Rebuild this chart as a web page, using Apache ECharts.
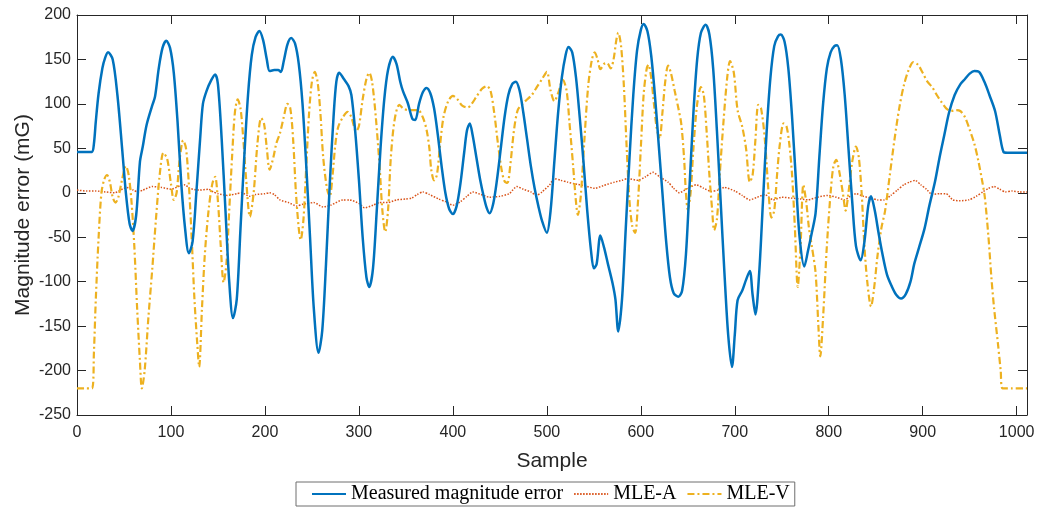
<!DOCTYPE html>
<html>
<head>
<meta charset="utf-8">
<script src="https://cdn.jsdelivr.net/npm/echarts@6/dist/echarts.min.js"></script>
<style>
  html, body { margin: 0; padding: 0; background: #fff; }
  #chart { width: 1042px; height: 508px; }
</style>
</head>
<body>
<div id="chart"></div>
<script>
// Sample index / value pairs for each error trace
const measured = [[0,46],[10,46],[16,46],[18,55],[20,80],[23,112],[27,140],[30,152],[33,158],[38,150],[43,110],[48,50],[52,0],[56,-35],[59,-43],[63,-25],[67,35],[70,52],[74,76],[80,98],[83,108],[87,140],[91,163],[95,171],[99,163],[103,135],[107,80],[111,10],[115,-40],[119,-68],[123,-55],[127,0],[131,60],[134,100],[138,115],[143,127],[147,133],[150,122],[154,60],[158,-20],[162,-100],[166,-141],[170,-120],[174,-40],[178,40],[182,110],[186,155],[190,175],[194,182],[198,172],[202,150],[205,137],[210,138],[214,138],[217,136],[220,148],[224,167],[228,174],[232,168],[236,145],[240,100],[244,30],[248,-50],[252,-130],[257,-180],[261,-155],[265,-80],[269,10],[273,85],[276,125],[279,135],[284,128],[289,120],[292,110],[296,70],[300,15],[304,-50],[308,-95],[311,-106],[315,-85],[319,-20],[323,50],[327,105],[331,138],[336,153],[340,145],[344,125],[347,114],[352,101],[357,83],[360,82],[364,100],[368,113],[372,118],[376,112],[380,95],[384,65],[388,30],[392,0],[396,-18],[400,-24],[404,-15],[408,10],[412,45],[415,70],[418,78],[421,65],[425,40],[429,15],[433,-5],[436,-17],[439,-23],[443,-12],[447,15],[451,50],[455,85],[459,110],[463,122],[467,125],[471,115],[475,90],[479,60],[483,30],[487,5],[491,-15],[495,-32],[500,-45],[504,-20],[508,35],[512,90],[516,130],[520,155],[523,164],[527,158],[531,130],[535,85],[539,35],[543,-20],[547,-65],[550,-85],[553,-80],[557,-48],[561,-62],[565,-80],[570,-102],[573,-120],[576,-156],[580,-120],[584,-40],[588,40],[592,110],[596,160],[600,183],[603,190],[607,182],[611,155],[615,110],[619,55],[623,0],[627,-55],[631,-95],[635,-113],[640,-117],[644,-110],[648,-70],[652,10],[656,90],[660,150],[664,180],[669,189],[673,178],[677,140],[681,70],[685,-10],[689,-90],[693,-160],[697,-196],[700,-160],[703,-121],[708,-110],[712,-98],[716,-88],[719,-115],[722,-137],[726,-90],[730,-10],[734,70],[738,130],[742,165],[746,176],[749,178],[753,170],[757,140],[761,85],[765,15],[769,-50],[774,-83],[778,-65],[782,-45],[786,-23],[790,40],[794,100],[798,140],[802,158],[806,165],[809,166],[813,150],[817,110],[821,50],[825,-10],[829,-60],[834,-76],[838,-55],[842,-15],[845,-4],[849,-20],[853,-45],[857,-68],[862,-92],[867,-105],[872,-115],[877,-119],[882,-114],[887,-100],[891,-80],[896,-62],[902,-40],[907,-15],[913,12],[918,40],[923,65],[928,90],[934,110],[940,122],[945,128],[950,134],[955,137],[960,136],[966,124],[971,110],[977,92],[982,65],[986,46],[990,45],[1000,45],[1011,45]];

const mleA = [[0,3],[10,2],[20,2],[30,1],[40,0],[50,5],[55,6],[60,3],[65,1],[70,3],[80,7],[90,6],[100,4],[110,8],[115,9],[120,5],[130,3],[140,4],[145,1],[150,-1],[160,-3],[170,-1],[175,0],[184,-4],[190,-2],[200,-1],[205,0],[210,-2],[216,-8],[225,-11],[234,-15],[240,-13],[252,-11],[262,-16],[270,-14],[283,-8],[290,-8],[300,-12],[306,-17],[315,-14],[322,-11],[331,-11],[340,-8],[350,-7],[356,-6],[362,-2],[368,1],[375,-2],[385,-7],[392,-10],[400,-14],[408,-10],[415,-4],[421,1],[430,-2],[439,-5],[450,-4],[460,-1],[468,7],[475,4],[483,1],[489,-3],[495,1],[503,9],[508,16],[515,14],[522,12],[530,10],[540,8],[551,5],[560,8],[572,12],[580,14],[586,16],[597,14],[605,18],[613,23],[620,18],[629,12],[635,5],[641,0],[650,5],[659,9],[667,5],[675,1.5],[682,3],[689,6],[700,2],[708,-3],[716,-8],[724,-5],[732,-2],[741,-8],[750,-5],[760,-6],[770,-7],[778,-8],[788,-5],[799,-3],[808,-5],[817,-8],[823,-4],[829,-1],[837,-4],[845,-6],[852,-8],[859,-8],[866,-3],[873,3],[880,9],[886,12],[892,14],[898,9],[904,4],[910,-2],[918,-1],[925,-1],[932,-8],[940,-9],[949,-8],[957,-4],[964,1],[970,5],[976,7],[982,4],[988,1],[995,2],[1003,1],[1011,1]];

const mleV = [[0,-220],[10,-220],[16,-220],[18,-180],[20,-120],[23,-50],[26,0],[29,15],[32,20],[35,12],[38,-5],[41,-11],[44,-5],[48,15],[52,30],[55,20],[58,-10],[61,-60],[64,-130],[67,-190],[69,-220],[72,-200],[76,-140],[80,-87],[84,-30],[88,20],[92,45],[96,38],[100,10],[103,-8],[106,0],[109,35],[113,59],[116,50],[119,10],[122,-50],[125,-120],[128,-170],[130,-196],[133,-130],[136,-70],[140,-20],[144,10],[147,18],[150,-10],[153,-60],[156,-101],[159,-80],[162,-20],[165,40],[168,90],[171,105],[174,95],[177,60],[180,15],[184,-27],[188,0],[192,55],[196,84],[199,78],[202,50],[205,26],[209,40],[212,55],[216,67],[220,85],[224,100],[227,95],[230,60],[233,0],[236,-40],[238,-53],[241,-30],[244,30],[247,90],[250,125],[253,136],[256,125],[259,90],[262,40],[266,5],[269,-4],[272,20],[275,55],[278,74],[283,85],[288,91],[292,85],[297,69],[300,75],[304,105],[308,128],[311,135],[314,125],[318,85],[322,30],[325,-20],[328,-44],[331,-20],[334,40],[338,82],[343,99],[347,95],[352,93],[358,93],[363,93],[368,85],[372,71],[375,50],[377,26],[380,14],[383,20],[386,50],[390,85],[395,103],[400,109],[405,105],[410,98],[416,96],[420,100],[425,108],[431,117],[436,120],[440,115],[444,90],[448,55],[452,25],[455,13],[458,11],[461,30],[465,70],[469,93],[474,100],[479,105],[484,110],[490,120],[495,128],[500,136],[504,115],[508,103],[512,112],[517,127],[521,115],[524,80],[528,30],[531,-10],[533,-25],[536,-5],[540,60],[544,120],[548,150],[551,158],[554,150],[557,139],[561,145],[564,146],[568,140],[571,150],[574,172],[576,180],[579,165],[582,120],[585,50],[588,-10],[591,-38],[594,-45],[597,-10],[600,50],[603,110],[606,138],[608,144],[611,130],[614,100],[617,72],[620,61],[623,90],[626,125],[629,143],[632,135],[636,115],[640,95],[643,78],[646,40],[648,0],[650,-19],[653,0],[656,50],[660,100],[664,119],[667,110],[670,70],[673,20],[676,-20],[678,-42],[681,-30],[684,20],[688,80],[692,130],[695,148],[699,135],[703,93],[708,74],[712,50],[716,12],[719,20],[722,60],[725,99],[728,95],[732,60],[736,0],[739,-28],[742,-20],[745,20],[748,55],[752,78],[755,75],[758,55],[761,20],[764,-40],[767,-106],[770,-60],[773,9],[776,-10],[779,-40],[782,-60],[786,-90],[789,-150],[791,-184],[794,-140],[798,-60],[802,0],[805,30],[808,37],[811,25],[815,0],[818,-20],[821,0],[825,35],[829,52],[832,40],[835,0],[838,-60],[841,-100],[845,-128],[848,-110],[852,-70],[856,-40],[860,-20],[865,20],[870,60],[875,95],[880,121],[885,138],[890,147],[895,144],[900,135],[905,125],[910,119],[915,110],[920,102],[925,95],[930,92],[935,93],[940,92],[945,85],[950,71],[955,55],[959,37],[963,15],[966,-4],[970,-50],[973,-94],[976,-130],[980,-169],[983,-200],[985,-220],[995,-220],[1011,-220]];

const seriesNames = ['Measured magnitude error', 'MLE-A', 'MLE-V'];
const xRange = [0, 1011];
const yRange = [-250, 200];

const axisColor = '#262626';
const tickFont = { fontFamily: 'Liberation Sans, Arial, sans-serif', fontSize: 16, color: axisColor };

const chart = echarts.init(document.getElementById('chart'), null, { renderer: 'canvas' });

// Box-style frame: every side has a line and inward ticks
const frameAxis = {
  axisLine: { show: true, onZero: false, lineStyle: { color: axisColor, width: 1 } },
  axisTick: { show: true, inside: true, length: 9, lineStyle: { color: axisColor } },
  splitLine: { show: false }
};

chart.setOption({
  animation: false,
  backgroundColor: '#ffffff',
  grid: { left: 77, right: 15, top: 15, bottom: 93, containLabel: false, outerBoundsMode: 'none' },
  legend: {
    data: seriesNames,
    left: 296,
    top: 482,
    padding: [2, 5, 2, 15],
    itemGap: 10,
    itemWidth: 34,
    itemHeight: 12,
    borderColor: '#6e6e6e',
    borderWidth: 1,
    backgroundColor: '#ffffff',
    itemStyle: { opacity: 0 },
    textStyle: { fontFamily: 'Liberation Serif, Times New Roman, serif', fontSize: 20, color: '#000' }
  },
  xAxis: [
    Object.assign({}, frameAxis, {
      type: 'value', min: xRange[0], max: xRange[1], interval: 100,
      position: 'bottom',
      name: 'Sample', nameLocation: 'middle', nameGap: 36, nameMoveOverlap: false,
      nameTextStyle: { fontFamily: 'Liberation Sans, Arial, sans-serif', fontSize: 21, color: axisColor },
      axisLabel: Object.assign({}, tickFont, { margin: 10, formatter: v => (v % 100 === 0 ? String(v) : '') })
    }),
    Object.assign({}, frameAxis, {
      type: 'value', min: xRange[0], max: xRange[1], interval: 100,
      position: 'top', axisLabel: { show: false }
    })
  ],
  yAxis: [
    Object.assign({}, frameAxis, {
      type: 'value', min: yRange[0], max: yRange[1], interval: 50,
      position: 'left',
      name: 'Magnitude error (mG)', nameLocation: 'middle', nameGap: 43, nameMoveOverlap: false,
      nameTextStyle: { fontFamily: 'Liberation Sans, Arial, sans-serif', fontSize: 21, color: axisColor },
      axisLabel: Object.assign({}, tickFont, { margin: 6 })
    }),
    Object.assign({}, frameAxis, {
      type: 'value', min: yRange[0], max: yRange[1], interval: 50,
      position: 'right', axisLabel: { show: false }
    })
  ],
  series: [
    {
      name: seriesNames[0], type: 'line', data: measured,
      symbol: 'none', smooth: 0.3, z: 3,
      lineStyle: { color: '#0072BD', width: 2.5, type: 'solid' },
      itemStyle: { color: '#0072BD' }
    },
    {
      name: seriesNames[1], type: 'line', data: mleA,
      symbol: 'none', smooth: 0.2, z: 2,
      lineStyle: { color: '#D95319', width: 1.5, type: [1.5, 1.5] },
      itemStyle: { color: '#D95319' }
    },
    {
      name: seriesNames[2], type: 'line', data: mleV,
      symbol: 'none', smooth: 0.3, z: 2,
      lineStyle: { color: '#EDB120', width: 2.2, type: [7, 3, 2, 3] },
      itemStyle: { color: '#EDB120' }
    }
  ]
});
</script>
</body>
</html>
